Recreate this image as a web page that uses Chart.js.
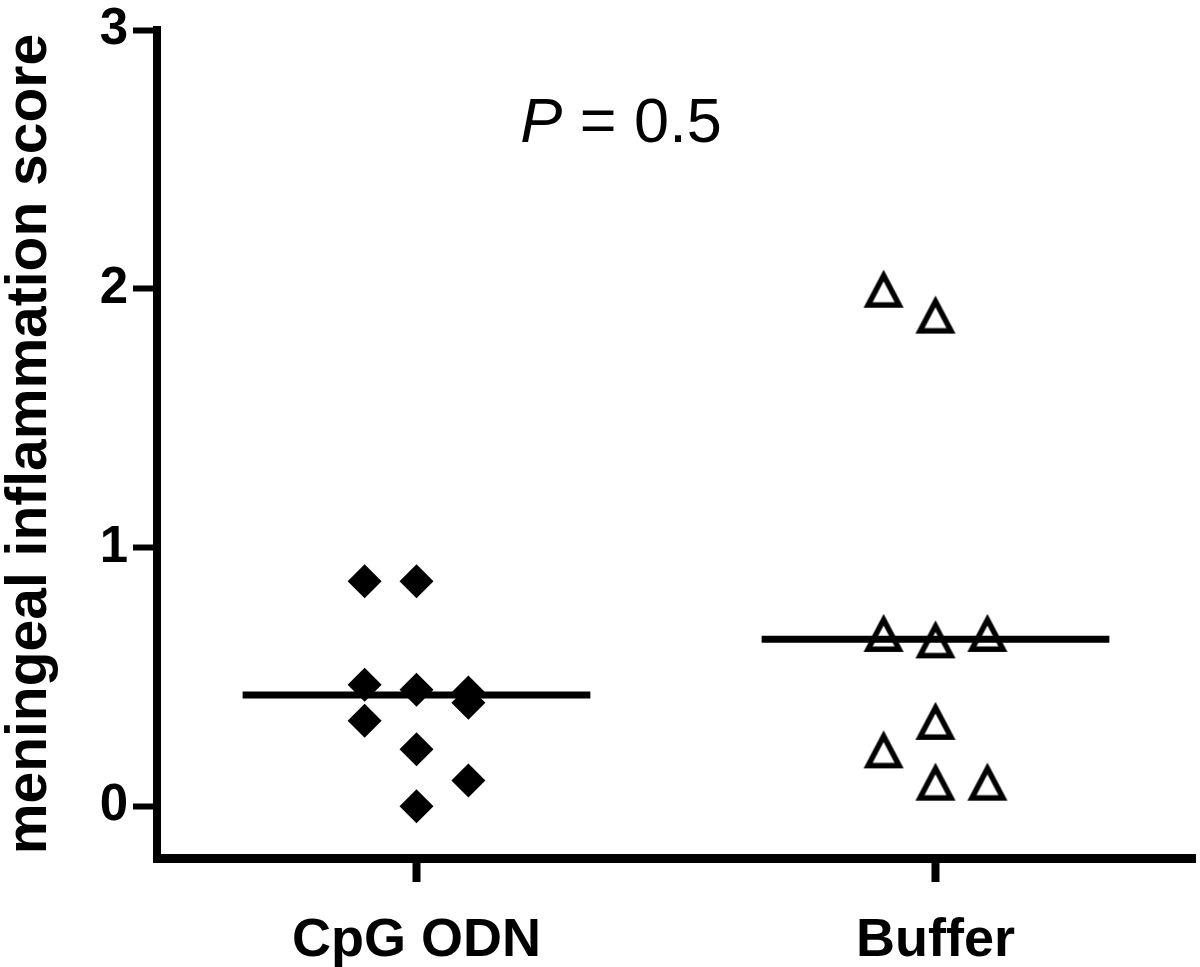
<!DOCTYPE html>
<html><head><meta charset="utf-8">
<script src="https://cdn.jsdelivr.net/npm/chart.js@4/dist/chart.umd.min.js"></script>
<style>html,body{margin:0;padding:0;background:#fff;overflow:hidden}canvas{display:block}</style>
</head><body><canvas id="c" width="1200" height="967" style="width:1200px;height:967px"></canvas>
<script>
const categories = ['CpG ODN', 'Buffer'];
const yTickValues = [0, 1, 2, 3];
const cpgScores = [0.87, 0.87, 0.47, 0.45, 0.44, 0.40, 0.33, 0.22, 0.10, 0.00];
const cpgJitter = [-0.1, 0, -0.1, 0, 0.1, 0.1, -0.1, 0, 0.1, 0];
const bufferScores = [2.00, 1.90, 0.67, 0.645, 0.67, 0.33, 0.22, 0.095, 0.095];
const bufferJitter = [-0.1, 0, -0.1, 0, 0.1, 0, -0.1, 0, 0.1];
const medians = [0.43, 0.645];
const medianHalfWidth = 0.335;
const yAxisTitle = 'meningeal inflammation score';
const pLabel = 'P';
const pRest = ' = 0.5';

const FONT = "'Liberation Sans', Arial, sans-serif";

function makeTriangle() {
  const c = document.createElement('canvas');
  c.width = 42; c.height = 42;
  const g = c.getContext('2d');
  g.lineWidth = 5.5; g.lineJoin = 'miter'; g.strokeStyle = '#000';
  g.beginPath();
  g.moveTo(21, 7.8); g.lineTo(36.5, 37.25); g.lineTo(5.5, 37.25); g.closePath();
  g.stroke();
  return c;
}

const cpgPoints = cpgScores.map((v, i) => ({ x: 1 + cpgJitter[i], y: v }));
const bufferPoints = bufferScores.map((v, i) => ({ x: 2 + bufferJitter[i], y: v }));
const medianSets = medians.map((m, i) => ({
  type: 'line', data: [{ x: i + 1 - medianHalfWidth, y: m }, { x: i + 1 + medianHalfWidth, y: m }],
  borderColor: '#000', borderWidth: 7, pointRadius: 0, showLine: true, fill: false
}));

const pPlugin = {
  id: 'pText',
  afterDraw(chart) {
    const ctx = chart.ctx;
    ctx.save();
    ctx.fillStyle = '#000';
    ctx.textBaseline = 'alphabetic';
    ctx.font = 'italic 63px ' + FONT;
    const w1 = ctx.measureText(pLabel).width;
    ctx.font = '63px ' + FONT;
    const w2 = ctx.measureText(pRest).width;
    const x0 = 621 - (w1 + w2) / 2;
    ctx.font = 'italic 63px ' + FONT;
    ctx.fillText(pLabel, x0, 142);
    ctx.font = '63px ' + FONT;
    ctx.fillText(pRest, x0 + w1, 142);
    ctx.restore();
  }
};

new Chart(document.getElementById('c'), {
  type: 'scatter',
  data: {
    datasets: [
      { data: cpgPoints, pointStyle: 'rectRot', pointRadius: 17, backgroundColor: '#000', borderWidth: 0 },
      { data: bufferPoints, pointStyle: makeTriangle(), pointRadius: 20 },
      ...medianSets
    ]
  },
  options: {
    responsive: false, animation: false, devicePixelRatio: 1,
    layout: { autoPadding: false, padding: { top: 30, right: 5, left: 0, bottom: 0 } },
    plugins: { legend: { display: false }, tooltip: { enabled: false } },
    scales: {
      x: {
        type: 'linear', min: 0.5, max: 2.5,
        afterBuildTicks: s => { s.ticks = categories.map((_, i) => ({ value: i + 1 })); },
        afterFit: s => { s.height = 109; s.paddingLeft = 0; s.paddingRight = 0; },
        ticks: { callback: v => categories[v - 1], color: '#000', font: { family: FONT, size: 54, weight: 'bold' }, padding: 27, maxRotation: 0 },
        grid: { drawOnChartArea: false, drawTicks: true, tickLength: 24, tickWidth: 8, tickColor: '#000' },
        border: { display: true, color: '#000', width: 9 }
      },
      y: {
        min: -0.2, max: 3,
        afterBuildTicks: s => { s.ticks = yTickValues.map(v => ({ value: v })); },
        afterFit: s => { s.width = 157; s.paddingTop = 0; s.paddingBottom = 0; },
        ticks: { color: '#000', font: { family: FONT, size: 51, weight: 'bold' }, padding: 5 },
        grid: { drawOnChartArea: false, drawTicks: true, tickLength: 24, tickWidth: 6, tickColor: '#000' },
        border: { display: true, color: '#000', width: 8 },
        title: { display: true, text: yAxisTitle, color: '#000', font: { family: FONT, size: 57, weight: 'bold', lineHeight: 1 }, padding: 2 }
      }
    }
  },
  plugins: [pPlugin]
});
</script></body></html>
